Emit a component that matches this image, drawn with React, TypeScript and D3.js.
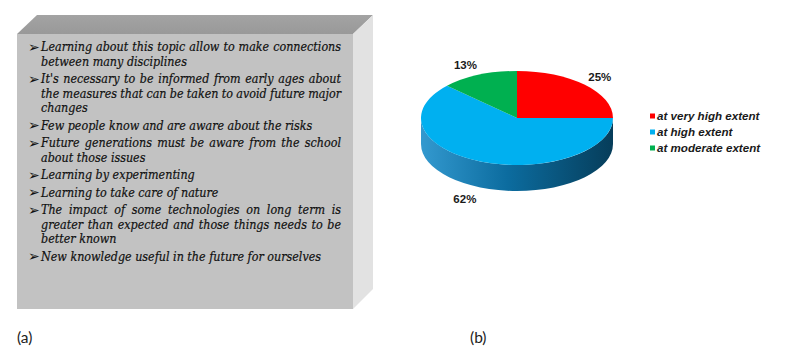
import React, { useEffect, useRef } from "react";
import * as d3 from "d3";

const W = 799;
const H = 352;

// Panel (a): bullet items, each split into its printed lines
const itemLines: string[][] = [
  ["Learning about this topic allow to make connections", "between many disciplines"],
  [
    "It's necessary to be informed from early ages about",
    "the measures that can be taken to avoid future major",
    "changes",
  ],
  ["Few people know and are aware about the risks"],
  ["Future generations must be aware from the school", "about those issues"],
  ["Learning by experimenting"],
  ["Learning to take care of nature"],
  [
    "The impact of some technologies on long term is",
    "greater than expected and those things needs to be",
    "better known",
  ],
  ["New knowledge useful in the future for ourselves"],
];

// Panel (b): pie data
const categories = ["at very high extent", "at high extent", "at moderate extent"];
const values = [25, 62, 13];
const colors = ["#ff0000", "#00b0f0", "#00b050"];
const panelLabels = ["(a)", "(b)"];

// layout
const box = { x: 17, y: 34, w: 336, h: 275, d: 20 };
const textLeft = 41;
const textRight = 341;
const bulletX = 28;
const firstBaseline = 51;
const lineStep = 14.5;
const itemStep = 17.5;
const pie3d = { cx: 517, cy: 118, rx: 96, ry: 47, depth: 26 };
const legend = { x: 650, y: 116, step: 16 };

const serif = "'DejaVu Serif', 'Liberation Serif', serif";
const sans = "'Liberation Sans', Arial, sans-serif";

export default function App() {
  const textRef = useRef<SVGGElement | null>(null);

  useEffect(() => {
    const g = d3.select(textRef.current);
    g.selectAll("*").remove();
    let y = firstBaseline;
    itemLines.forEach((lines, i) => {
      if (i > 0) y += itemStep;
      g.append("text")
        .attr("x", bulletX)
        .attr("y", y + 0.5)
        .attr("font-family", "'DejaVu Sans', sans-serif")
        .attr("font-size", 14)
        .attr("fill", "#111")
        .text("\u27A2");
      lines.forEach((line, j) => {
        if (j > 0) y += lineStep;
        const justify = j < lines.length - 1;
        const words = line.split(" ");
        const t = g
          .append("text")
          .attr("y", y)
          .attr("font-family", serif)
          .attr("font-style", "italic")
          .attr("font-stretch", "condensed")
          .attr("font-size", 12.4)
          .attr("fill", "#111")
          .attr("stroke", "#111")
          .attr("stroke-width", 0.2);
        if (!justify) {
          t.attr("x", textLeft).text(line);
        } else {
          const spans = words.map((w) => t.append("tspan").text(w));
          const widths = spans.map((s) => (s.node() as SVGTSpanElement).getComputedTextLength());
          const total = d3.sum(widths);
          const gap = (textRight - textLeft - total) / (words.length - 1);
          let x = textLeft;
          spans.forEach((s, k) => {
            s.attr("x", x);
            x += widths[k] + gap;
          });
        }
      });
    });
  }, []);

  const { cx, cy, rx, ry, depth } = pie3d;
  const pt = (a: number, dy = 0): [number, number] => [cx + rx * Math.sin(a), cy - ry * Math.cos(a) + dy];
  const arcs = d3.pie<number>().sort(null).startAngle(0).endAngle(2 * Math.PI)(values);

  const topPath = (a0: number, a1: number) => {
    const p0 = pt(a0);
    const p1 = pt(a1);
    const large = a1 - a0 > Math.PI ? 1 : 0;
    return `M${cx},${cy}L${p0[0]},${p0[1]}A${rx},${ry} 0 ${large} 1 ${p1[0]},${p1[1]}Z`;
  };
  const sidePath = (a0: number, a1: number) => {
    const s = Math.max(a0, Math.PI / 2);
    const e = Math.min(a1, (3 * Math.PI) / 2);
    if (e <= s) return null;
    const p0 = pt(s);
    const p1 = pt(e);
    const q0 = pt(s, depth);
    const q1 = pt(e, depth);
    const large = e - s > Math.PI ? 1 : 0;
    return `M${p0[0]},${p0[1]}A${rx},${ry} 0 ${large} 1 ${p1[0]},${p1[1]}L${q1[0]},${q1[1]}A${rx},${ry} 0 ${large} 0 ${q0[0]},${q0[1]}Z`;
  };

  const total = d3.sum(values);
  const yLegend = d3.scaleLinear().domain([0, 1]).range([legend.y, legend.y + legend.step]);

  return (
    <svg width={W} height={H} style={{ position: "absolute", left: 0, top: 0, background: "#fff" }}>
      <defs>
        <linearGradient id="sideGrad" x1={cx - rx} x2={cx + rx} y1={0} y2={0} gradientUnits="userSpaceOnUse">
          <stop offset="0" stopColor="#3399cf" />
          <stop offset="0.45" stopColor="#0c6c9f" />
          <stop offset="1" stopColor="#063d5a" />
        </linearGradient>
        <linearGradient id="topFace" x1="0" x2="0" y1="0" y2="1">
          <stop offset="0" stopColor="#a3a3a3" />
          <stop offset="1" stopColor="#999999" />
        </linearGradient>
      </defs>

      {/* Panel (a): 3D box */}
      <polygon
        points={`${box.x},${box.y} ${box.x + box.w},${box.y} ${box.x + box.w + box.d},${box.y - box.d + 1} ${box.x + box.d},${box.y - box.d + 1}`}
        fill="url(#topFace)"
      />
      <polygon
        points={`${box.x + box.w},${box.y} ${box.x + box.w + box.d},${box.y - box.d + 1} ${box.x + box.w + box.d},${box.y + box.h - box.d} ${box.x + box.w},${box.y + box.h}`}
        fill="#e2e2e2"
      />
      <rect x={box.x} y={box.y} width={box.w} height={box.h} fill="#c2c2c2" />
      <g ref={textRef} />

      {/* Panel (b): 3D pie */}
      {arcs.map((a, i) => {
        const d = sidePath(a.startAngle, a.endAngle);
        return d ? <path key={"s" + i} d={d} fill={i === 1 ? "url(#sideGrad)" : colors[i]} /> : null;
      })}
      {arcs.map((a, i) => (
        <path key={"t" + i} d={topPath(a.startAngle, a.endAngle)} fill={colors[i]} />
      ))}
      {arcs.map((a, i) => {
        const m = (a.startAngle + a.endAngle) / 2;
        const k = 1.22;
        const lower = Math.cos(m) < 0;
        const x = cx + rx * k * Math.sin(m) - (Math.sin(m) < 0 ? (lower ? 9 : 5) : 0);
        const y = cy - ry * k * Math.cos(m) + (lower ? depth + 2 : 0) + 4;
        return (
          <text key={"l" + i} x={x} y={y} textAnchor="middle" fontFamily={sans} fontWeight="bold" fontSize={11.5} fill="#1a1a1a">
            {`${Math.round((values[i] / total) * 100)}%`}
          </text>
        );
      })}

      {/* Legend */}
      {categories.map((c, i) => (
        <g key={c}>
          <rect x={legend.x} y={yLegend(i) - 2.5} width={5} height={5} fill={colors[i]} />
          <text x={legend.x + 7} y={yLegend(i) + 4} fontFamily={sans} fontWeight="bold" fontStyle="italic" fontSize={11.6} fill="#1a1a1a">
            {c}
          </text>
        </g>
      ))}

      {/* Panel labels */}
      <text x={17} y={343} fontFamily="Lato, 'Open Sans', sans-serif" fontSize={15.5} fill="#222">
        {panelLabels[0]}
      </text>
      <text x={470} y={343} fontFamily="Lato, 'Open Sans', sans-serif" fontSize={15.5} fill="#222">
        {panelLabels[1]}
      </text>
    </svg>
  );
}
